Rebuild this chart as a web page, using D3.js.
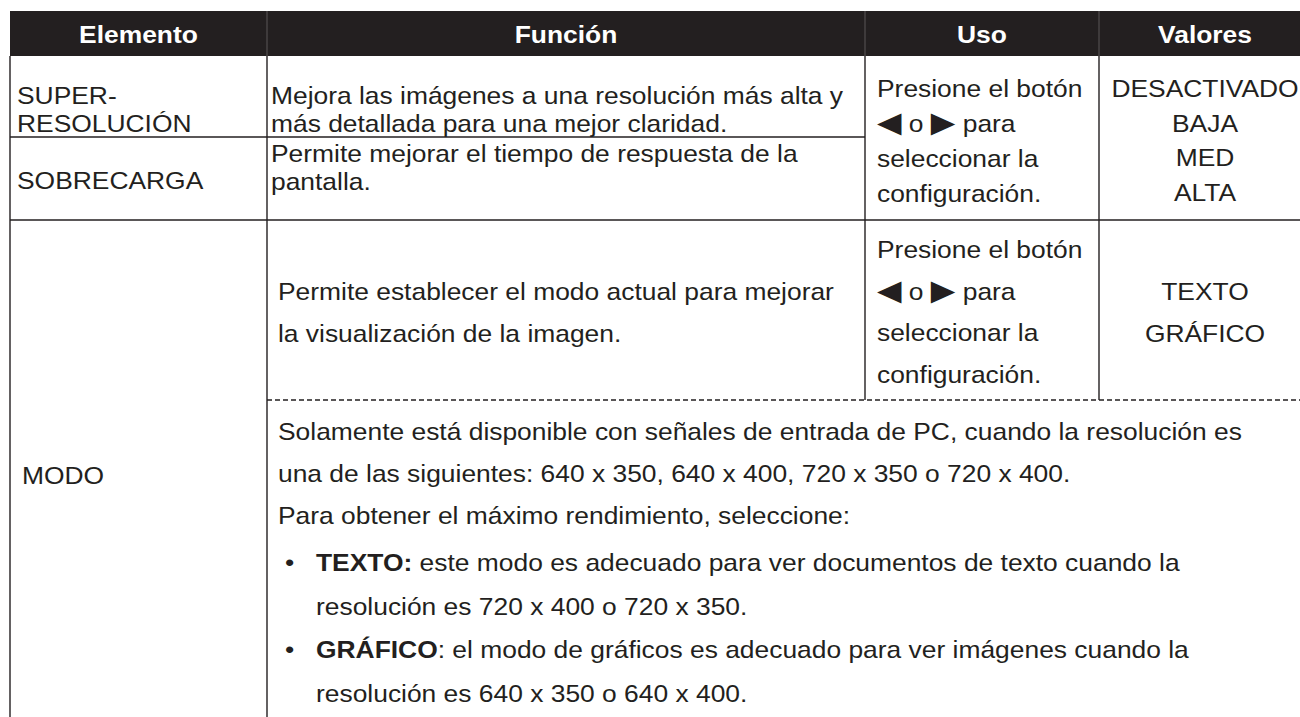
<!DOCTYPE html>
<html>
<head>
<meta charset="utf-8">
<script src="https://cdn.jsdelivr.net/npm/d3@7"></script>
<style>
  html, body { margin: 0; padding: 0; background: #fff; }
  svg { display: block; }
</style>
</head>
<body>
<svg id="tbl" width="1300" height="717"></svg>
<script>
// ---------- DATA ----------
const headers = ["Elemento", "Función", "Uso", "Valores"];
const elementos = [["SUPER-", "RESOLUCIÓN"], ["SOBRECARGA"], ["MODO"]];
const funciones = [
  ["Mejora las imágenes a una resolución más alta y", "más detallada para una mejor claridad."],
  ["Permite mejorar el tiempo de respuesta de la", "pantalla."],
  ["Permite establecer el modo actual para mejorar", "la visualización de la imagen."]
];
const usoLines = ["Presione el botón", "TRI", "seleccionar la", "configuración."];
const valoresA = ["DESACTIVADO", "BAJA", "MED", "ALTA"];
const valoresB = ["TEXTO", "GRÁFICO"];
const notas = [
  [{t: "Solamente está disponible con señales de entrada de PC, cuando la resolución es"}],
  [{t: "una de las siguientes: 640 x 350, 640 x 400, 720 x 350 o 720 x 400."}],
  [{t: "Para obtener el máximo rendimiento, seleccione:"}]
];
const bullets = [
  [[{t: "TEXTO:", b: true}, {t: " este modo es adecuado para ver documentos de texto cuando la"}],
   [{t: "resolución es 720 x 400 o 720 x 350."}]],
  [[{t: "GRÁFICO", b: true}, {t: ": el modo de gráficos es adecuado para ver imágenes cuando la"}],
   [{t: "resolución es 640 x 350 o 640 x 400."}]]
];

// ---------- LAYOUT ----------
const INK = "#231f20";
const FS = 24, SX = 1.1;
const FONT = "'Liberation Sans', Arial, Helvetica, sans-serif";
const colEdges = [10, 267, 865, 1099, 1311];
const x = d3.scaleOrdinal().domain(headers).range(colEdges.slice(0, 4));
const xEnd = d3.scaleOrdinal().domain(headers).range(colEdges.slice(1));
const yHead = [11, 56];
const rowY = [56, 137, 220, 400, 717];

const svg = d3.select("#tbl");
const g = svg.append("g");

function text(px, py, parts, anchor, bold, fill, size, fam) {
  const t = g.append("text")
    .attr("transform", `translate(${px},${py}) scale(${SX},1)`)
    .attr("font-family", fam || FONT)
    .attr("font-size", size || FS)
    .attr("fill", fill || INK)
    .attr("text-anchor", anchor || "start")
    .attr("font-weight", bold ? "bold" : "normal");
  if (typeof parts === "string") parts = [{t: parts}];
  parts.forEach(p => {
    const s = t.append("tspan").text(p.t);
    if (p.b) s.attr("font-weight", "bold");
    if (p.fam) s.attr("font-family", p.fam);
    if (p.size) s.attr("font-size", p.size);
  });
  return t;
}

// header
g.append("rect").attr("x", colEdges[0]).attr("y", yHead[0])
  .attr("width", 1300 - colEdges[0]).attr("height", yHead[1] - yHead[0]).attr("fill", INK);
colEdges.slice(1, 4).forEach(cx => {
  g.append("line").attr("x1", cx).attr("x2", cx).attr("y1", yHead[0]).attr("y2", yHead[1])
    .attr("stroke", "#5a5657").attr("stroke-width", 1);
});
headers.forEach(h => {
  text((x(h) + xEnd(h)) / 2, 43, h, "middle", true, "#fff");
});

// grid lines
const L = (x1, y1, x2, y2, dash) => g.append("line")
  .attr("x1", x1).attr("y1", y1).attr("x2", x2).attr("y2", y2)
  .attr("stroke", INK).attr("stroke-width", 1.4)
  .attr("stroke-dasharray", dash || null);
L(x("Elemento"), rowY[0], x("Elemento"), rowY[4]);
L(x("Función"), rowY[0], x("Función"), rowY[4]);
L(x("Uso"), rowY[0], x("Uso"), rowY[3]);
L(x("Valores"), rowY[0], x("Valores"), rowY[3]);
L(x("Elemento"), rowY[1], x("Uso"), rowY[1]);
L(x("Elemento"), rowY[2], 1300, rowY[2]);
L(x("Función"), rowY[3], 1300, rowY[3], "5,3");

const lineY = (start, step) => d3.scaleLinear().domain([0, 1]).range([start, start + step]);

// Elemento column
const yE1 = lineY(104, 28.3);
elementos[0].forEach((s, i) => text(17, yE1(i), s));
text(17, 189, elementos[1][0]);
text(22, 484, elementos[2][0]);

// Función column
const fx1 = 271, fx2 = 278;
funciones[0].forEach((s, i) => text(fx1, yE1(i), s));
const yF2 = lineY(162, 28.3);
funciones[1].forEach((s, i) => text(fx1, yF2(i), s));
const yF3 = lineY(300, 42);
funciones[2].forEach((s, i) => text(fx2, yF3(i), s));

// Uso column
const triParts = [
  {t: "◀", fam: "'DejaVu Sans', sans-serif", size: 29},
  {t: " o "},
  {t: "▶", fam: "'DejaVu Sans', sans-serif", size: 29},
  {t: " para"}
];
function usoBlock(yScale) {
  usoLines.forEach((s, i) => {
    text(877, yScale(i), s === "TRI" ? triParts : s);
  });
}
usoBlock(lineY(97, 35));
usoBlock(lineY(258, 41.7));

// Valores column
const vc = (x("Valores") + xEnd("Valores")) / 2;
const yV1 = lineY(97, 34.7);
valoresA.forEach((s, i) => text(vc, yV1(i), s, "middle"));
const yV2 = lineY(300, 42);
valoresB.forEach((s, i) => text(vc, yV2(i), s, "middle"));

// Notes (lower part of MODO)
const yN = lineY(440, 41.8);
notas.forEach((parts, i) => text(278, yN(i), parts));
const yB = lineY(571, 43.7);
let k = 0;
bullets.forEach(b => {
  text(285, yB(k), "•");
  b.forEach(parts => { text(316, yB(k), parts); k++; });
});
</script>
</body>
</html>
